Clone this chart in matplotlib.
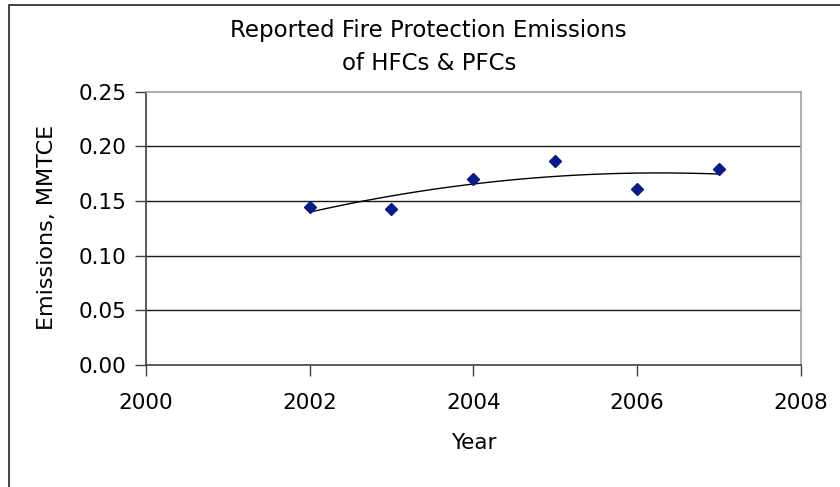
import numpy as np
import matplotlib
matplotlib.use("Agg")
import matplotlib.pyplot as plt
from matplotlib.patches import Rectangle

plt.rcParams['font.family'] = ['DejaVu Sans']

years = [2002, 2003, 2004, 2005, 2006, 2007]
emissions = [0.1445, 0.1424, 0.1698, 0.1863, 0.1607, 0.179]
x_ticks = [2000, 2002, 2004, 2006, 2008]
y_ticks = [0.00, 0.05, 0.10, 0.15, 0.20, 0.25]
title_lines = ["Reported Fire Protection Emissions", "of HFCs & PFCs"]

W, H = 840, 487
fig = plt.figure(figsize=(W / 100, H / 100), dpi=100)
fig.patch.set_facecolor('white')

# outer chart border (clipped at right/bottom like the reference)
fig.patches.append(Rectangle((9 / W, -0.05), 1.2, 1 - 4.7 / H + 0.05,
                             transform=fig.transFigure, fill=False,
                             edgecolor='#222222', linewidth=1.2))

ax = fig.add_axes([146 / W, 1 - 365 / H, (800.5 - 146) / W, (365 - 91.7) / H])

# quadratic trendline (as in the spreadsheet chart)
coef = np.polyfit(years, emissions, 2)
xs = np.linspace(years[0], years[-1], 100)
ax.plot(xs, np.polyval(coef, xs), color='black', linewidth=1.0, zorder=3)

ax.plot(years, emissions, linestyle='none', marker='D', markersize=6.5,
        color='#0a1a8c', markeredgecolor='#0a1a8c', zorder=4)

ax.set_xlim(2000, 2008)
ax.set_ylim(0, 0.25)
ax.set_xticks(x_ticks)
ax.set_yticks(y_ticks)
ax.set_yticklabels([f"{v:.2f}" for v in y_ticks])

for v in y_ticks[1:-1]:
    ax.axhline(v, color='#1a1a1a', linewidth=1.0, zorder=1)

ax.tick_params(axis='both', labelsize=15.5, colors='black', direction='out',
               length=8, width=1.0)
ax.tick_params(axis='y', pad=6, color='#404040')
ax.tick_params(axis='x', pad=12, color='#404040')

for side in ['left', 'bottom']:
    ax.spines[side].set_color('#404040')
    ax.spines[side].set_linewidth(1.2)
for side in ['top', 'right']:
    ax.spines[side].set_color('#a0a0a0')
    ax.spines[side].set_linewidth(1.2)

fig.text(428 / W, 1 - 30 / H, title_lines[0], ha='center', va='center', fontsize=16.5)
fig.text(429 / W, 1 - 63 / H, title_lines[1], ha='center', va='center', fontsize=16.5)
fig.text(474 / W, 1 - 443 / H, "Year", ha='center', va='center', fontsize=15.5)
fig.text(47 / W, 1 - 227 / H, "Emissions, MMTCE", ha='center', va='center',
         fontsize=16, rotation=90)

fig.savefig("out.png", dpi=100)
